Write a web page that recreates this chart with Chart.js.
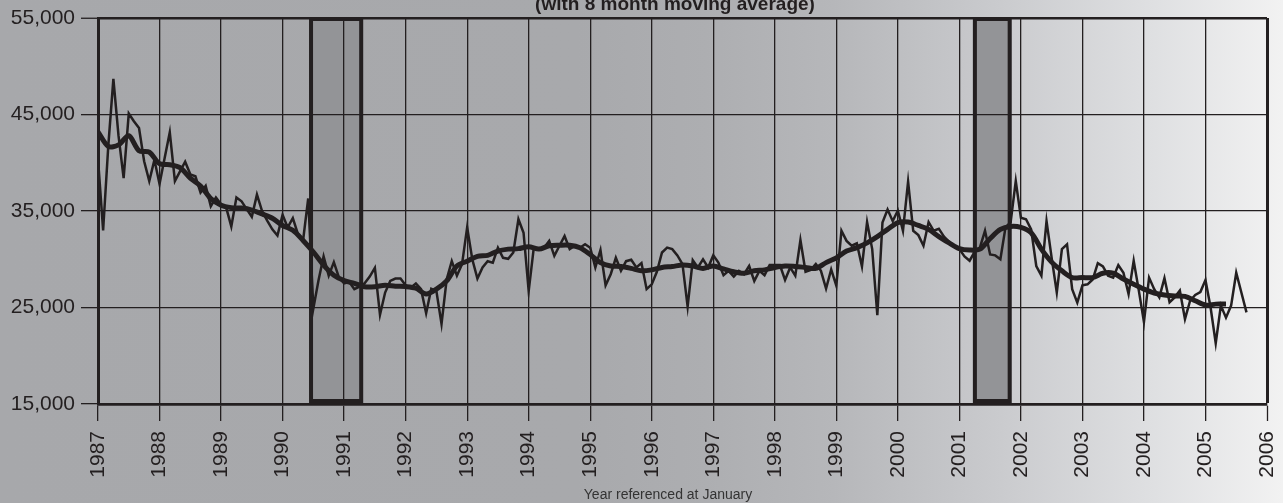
<!DOCTYPE html>
<html lang="en">
<head>
<meta charset="UTF-8" />
<title>Monthly series with moving average</title>
<script src="https://cdn.jsdelivr.net/npm/chart.js@4"></script>
<style>
  html, body { margin: 0; padding: 0; background: #a8a9ac; }
  #chart { display: block; }
</style>
</head>
<body>
<canvas id="chart" width="1283" height="503"></canvas>
<script>
// monthly values, Jan 1987 .. Sep 2005
const monthly = [
  40400, 33000, 41700, 48700, 42800, 38400, 45100, 44300, 43600, 40150, 38100, 40300, // 1987
  37800, 40500, 43150, 38100, 39100, 40100, 38800, 38600, 36900, 37600, 35500, 36400, // 1988
  35700, 35350, 33400, 36400, 36000, 35200, 34400, 36700, 35000, 34000, 33100, 32450, // 1989
  34600, 33300, 34250, 32600, 31950, 36300, 24900, 27800, 30300, 28300, 29700, 28100, // 1990
  27500, 27650, 26900, 27150, 27500, 28200, 29100, 24250, 26550, 27750, 28000, 28000, // 1991
  27300, 27050, 27500, 26900, 24400, 26950, 26700, 23300, 27900, 29800, 28300, 29500, // 1992
  33300, 30000, 28000, 29150, 29800, 29650, 31200, 30150, 30050, 30700, 34150, 32750, // 1993
  26700, 31200, 31050, 31200, 31900, 30350, 31400, 32400, 31050, 31400, 31200, 31550, // 1994
  31200, 29150, 30950, 27300, 28450, 30150, 28800, 29800, 29950, 29150, 29600, 26900, // 1995
  27400, 28700, 30700, 31200, 31050, 30400, 29500, 25100, 29900, 29150, 30000, 29150, // 1996
  30400, 29650, 28350, 28800, 28200, 28800, 28450, 29300, 27750, 28800, 28350, 29400, // 1997
  29400, 29400, 27850, 29150, 28300, 32000, 28700, 28900, 29500, 28800, 26950, 28950, // 1998
  27250, 32950, 31900, 31400, 31650, 29250, 33850, 31050, 24200, 33800, 35150, 33950, // 1999
  35050, 32950, 38050, 32950, 32500, 31400, 33850, 32950, 33150, 32350, 31800, 31400, // 2000
  31050, 30300, 29850, 30800, 31200, 32950, 30500, 30400, 30000, 33300, 33850, 38100, // 2001
  34300, 34150, 33100, 29300, 28300, 33950, 30150, 26550, 31050, 31550, 26900, 25500, // 2002
  27300, 27400, 27900, 29600, 29250, 28300, 28100, 29400, 28600, 26400, 29850, 26750, // 2003
  23500, 28100, 26900, 26050, 28050, 25550, 26050, 26750, 23800, 25700, 26300, 26600, // 2004
  27850, 25000, 21300, 25200, 23950, 25200, 28600, 26550, 24500                        // 2005
];

// moving average, one reading every second month from Jan 1987
const movingAvg = [
  43200, 41700, 41850, 42800, 41250, 41100, // 1987
  39900, 39800, 39500, 38400, 37600, 36300, // 1988
  35600, 35350, 35300, 35100, 34700, 34250, // 1989
  33500, 33000, 31950, 30750, 29400, 28350, // 1990
  27800, 27500, 27150, 27150, 27300, 27200, // 1991
  27170, 27000, 26400, 26900, 27750, 29300, // 1992
  29800, 30300, 30400, 30850, 31050, 31100, // 1993
  31300, 31050, 31400, 31450, 31450, 31200, // 1994
  30500, 29650, 29300, 29250, 29050, 28800, // 1995
  28900, 29150, 29250, 29400, 29300, 29050, // 1996
  29300, 29000, 28700, 28550, 28800, 28900, // 1997
  29150, 29300, 29250, 29150, 29050, 29650, // 1998
  30150, 30850, 31200, 31700, 32350, 33100, // 1999
  33800, 33850, 33500, 33100, 32350, 31700, // 2000
  31100, 30950, 31050, 32150, 33100, 33400, // 2001
  33300, 32750, 31050, 29700, 28800, 28100, // 2002
  28100, 28100, 28550, 28550, 27950, 27400, // 2003
  26900, 26500, 26300, 26200, 26150, 25700, // 2004
  25250, 25350, 25350                       // 2005
];

const yearTicks = [1987, 1988, 1989, 1990, 1991, 1992, 1993, 1994, 1995, 1996,
                   1997, 1998, 1999, 2000, 2001, 2002, 2003, 2004, 2005, 2006];
const valueTicks = [15000, 25000, 35000, 45000, 55000];
const recessions = [[1990.43, 1991.31], [2001.22, 2001.85]];
const firstYear = 1987;

const ink = '#231f20';
const font = '"Liberation Sans", Arial, Helvetica, sans-serif';

const backdrop = {
  id: 'backdrop',
  beforeDraw(chart) {
    const { ctx, width, height, chartArea: a } = chart;
    const x = chart.scales.x;
    const g = ctx.createLinearGradient(0, 0, width, 0);
    g.addColorStop(0, '#a7a8ab');
    g.addColorStop(0.45, '#a8a9ac');
    g.addColorStop(0.55, '#adaeb1');
    g.addColorStop(0.65, '#b6b7ba');
    g.addColorStop(0.78, '#cacbce');
    g.addColorStop(0.9, '#dfe0e2');
    g.addColorStop(1, '#f2f2f2');
    ctx.save();
    ctx.fillStyle = g;
    ctx.fillRect(0, 0, width, height);
    // shaded periods
    recessions.forEach(([from, to]) => {
      const l = x.getPixelForValue(from);
      const r = x.getPixelForValue(to);
      ctx.fillStyle = '#939497';
      ctx.fillRect(l, a.top, r - l, a.bottom - a.top);
      ctx.lineWidth = 4;
      ctx.strokeStyle = ink;
      ctx.strokeRect(l + 2, a.top + 1, r - l - 4, a.bottom - a.top - 4);
    });
    ctx.restore();
  },
  afterDraw(chart) {
    const { ctx } = chart;
    ctx.save();
    ctx.fillStyle = ink;
    ctx.textAlign = 'center';
    ctx.textBaseline = 'alphabetic';
    ctx.font = 'bold 19px ' + font;
    ctx.fillText('(with 8 month moving average)', 675, 9.5);
    ctx.fillStyle = '#333333';
    ctx.font = '14px ' + font;
    ctx.fillText('Year referenced at January', 668, 499);
    ctx.restore();
  }
};

new Chart(document.getElementById('chart'), {
  type: 'line',
  data: {
    datasets: [
      {
        label: 'Moving average',
        data: movingAvg.map((v, i) => ({ x: firstYear + (2 * i) / 12, y: v })),
        borderColor: ink,
        borderWidth: 5,
        pointRadius: 0,
        tension: 0.3,
        order: 0
      },
      {
        label: 'Monthly',
        data: monthly.map((v, i) => ({ x: firstYear + i / 12, y: v })),
        borderColor: ink,
        borderWidth: 2.5,
        pointRadius: 0,
        tension: 0,
        order: 1
      }
    ]
  },
  options: {
    responsive: false,
    animation: false,
    devicePixelRatio: 1,
    layout: { padding: { top: 18, right: 16, left: 0, bottom: 0 } },
    plugins: { legend: { display: false }, tooltip: { enabled: false } },
    scales: {
      x: {
        type: 'linear',
        min: 1987,
        max: 2006,
        afterBuildTicks: (s) => { s.ticks = yearTicks.map((v) => ({ value: v })); },
        afterFit: (s) => {
          s.height = 99;
          s.paddingLeft = 0;
          s.paddingRight = 0;
        },
        grid: {
          color: ink,
          lineWidth: (c) => (c.tick && c.tick.value === 2006 ? 3 : 1.3),
          tickLength: 17,
          tickWidth: 1.3,
          tickColor: ink
        },
        border: { color: ink, width: 2.7 },
        ticks: {
          autoSkip: false,
          minRotation: 90,
          maxRotation: 90,
          padding: 10,
          color: ink,
          font: { family: font, size: 21 },
          callback: (v) => String(v)
        }
      },
      y: {
        min: 15000,
        max: 55000,
        afterBuildTicks: (s) => { s.ticks = valueTicks.map((v) => ({ value: v })); },
        afterFit: (s) => {
          s.width = 98;
          s.paddingTop = 0;
          s.paddingBottom = 0;
        },
        grid: {
          color: ink,
          lineWidth: (c) => (c.tick && c.tick.value === 55000 ? 2.5 : 1.3),
          tickLength: 17,
          tickWidth: 1.3,
          tickColor: ink
        },
        border: { color: ink, width: 3 },
        ticks: {
          padding: 6,
          color: ink,
          font: { family: font, size: 21 },
          callback: (v) => v.toLocaleString('en-US')
        }
      }
    }
  },
  plugins: [backdrop]
});
</script>
</body>
</html>
